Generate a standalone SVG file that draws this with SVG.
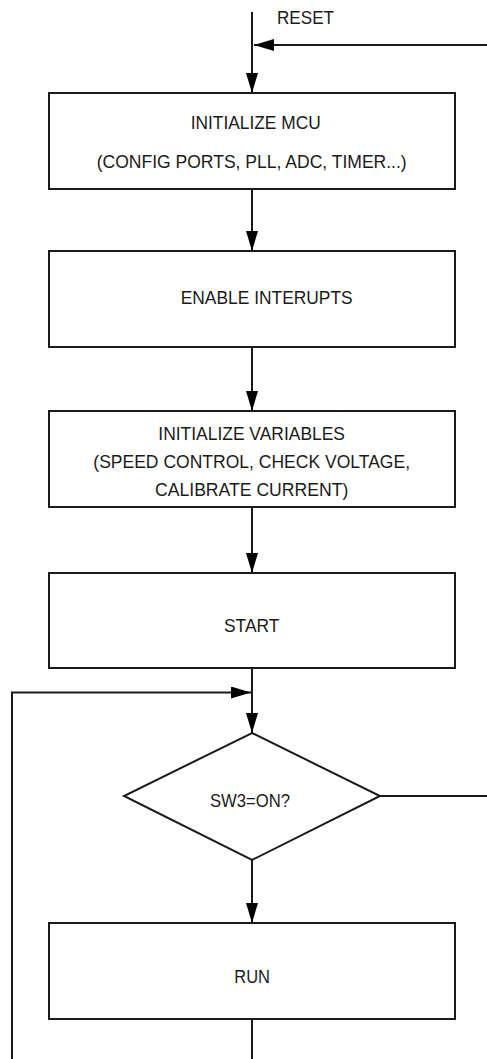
<svg xmlns="http://www.w3.org/2000/svg" width="487" height="1059" viewBox="0 0 487 1059">
<style>
.box{fill:#fff;stroke:#1a1a1a;stroke-width:2}
.ln{fill:none;stroke:#1a1a1a;stroke-width:2}
.t{font-family:"Liberation Sans",Arial,sans-serif;font-size:19px;fill:#1a1a1a}
</style>
<defs>
<marker id="ah" markerUnits="userSpaceOnUse" markerWidth="22" markerHeight="14" refX="20" refY="6" orient="auto">
<path d="M0,0 L20,6 L0,12 Z" fill="#000"/>
</marker>
</defs>
<rect width="487" height="1059" fill="#fff"/>
<g id="connectors">
<line class="ln" x1="252" y1="12" x2="252" y2="93" marker-end="url(#ah)"/>
<line class="ln" x1="487" y1="45" x2="254" y2="45" marker-end="url(#ah)"/>
<line class="ln" x1="252" y1="189" x2="252" y2="251" marker-end="url(#ah)"/>
<line class="ln" x1="252" y1="347" x2="252" y2="411" marker-end="url(#ah)"/>
<line class="ln" x1="252" y1="507" x2="252" y2="573" marker-end="url(#ah)"/>
<line class="ln" x1="252" y1="668" x2="252" y2="733" marker-end="url(#ah)"/>
<polyline class="ln" points="12,1059 12,692.5 251,692.5" marker-end="url(#ah)"/>
<line class="ln" x1="380" y1="796" x2="487" y2="796"/>
<line class="ln" x1="252" y1="860" x2="252" y2="923" marker-end="url(#ah)"/>
<line class="ln" x1="252" y1="1019" x2="252" y2="1059"/>
</g>
<text class="t" x="277" y="24" textLength="57" lengthAdjust="spacingAndGlyphs">RESET</text>
<g id="init-mcu">
<rect class="box" x="49" y="93" width="406" height="96"/>
<text class="t" x="190.7" y="129" textLength="130" lengthAdjust="spacingAndGlyphs">INITIALIZE MCU</text>
<text class="t" x="96.7" y="168" textLength="310" lengthAdjust="spacingAndGlyphs">(CONFIG PORTS, PLL, ADC, TIMER...)</text>
</g>
<g id="enable-int">
<rect class="box" x="49" y="251" width="406" height="96"/>
<text class="t" x="180.7" y="304" textLength="172" lengthAdjust="spacingAndGlyphs">ENABLE INTERUPTS</text>
</g>
<g id="init-vars">
<rect class="box" x="49" y="411" width="406" height="96"/>
<text class="t" x="158.3" y="440" textLength="186.7" lengthAdjust="spacingAndGlyphs">INITIALIZE VARIABLES</text>
<text class="t" x="93.3" y="467.5" textLength="316.7" lengthAdjust="spacingAndGlyphs">(SPEED CONTROL, CHECK VOLTAGE,</text>
<text class="t" x="155" y="495.5" textLength="193.3" lengthAdjust="spacingAndGlyphs">CALIBRATE CURRENT)</text>
</g>
<g id="start">
<rect class="box" x="49" y="573" width="406" height="95"/>
<text class="t" x="224" y="631.5" textLength="55.3" lengthAdjust="spacingAndGlyphs">START</text>
</g>
<g id="sw3">
<polygon class="box" points="252,733 380,796 252,860 124,796"/>
<text class="t" x="210" y="806.5" textLength="80" lengthAdjust="spacingAndGlyphs">SW3=ON?</text>
</g>
<g id="run">
<rect class="box" x="49" y="923" width="406" height="96"/>
<text class="t" x="234.3" y="983" textLength="35.7" lengthAdjust="spacingAndGlyphs">RUN</text>
</g>
</svg>
